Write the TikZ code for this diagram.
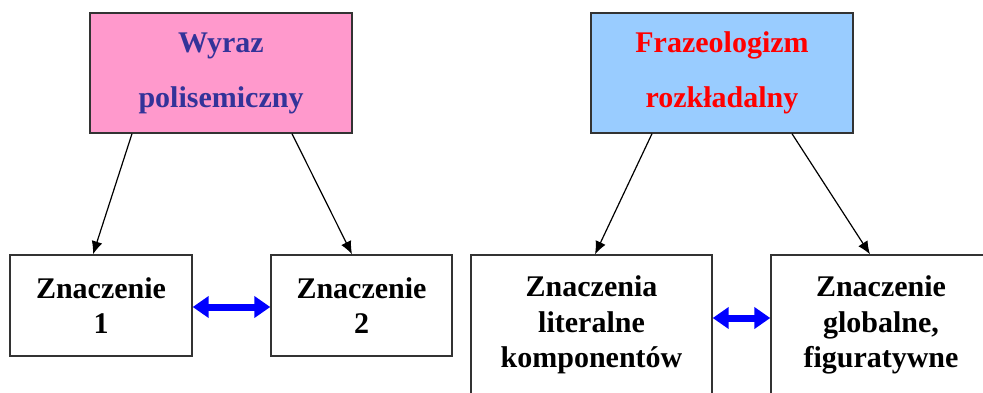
\documentclass[tikz,border=0pt]{standalone}
\usepackage{fontspec}
\setmainfont{Liberation Serif}
\usetikzlibrary{arrows.meta}
\usetikzlibrary{positioning}

\definecolor{pinkfill}{RGB}{255,153,204}
\definecolor{bluefill}{RGB}{153,204,255}
\definecolor{navytext}{RGB}{51,51,153}

\begin{document}
\begin{tikzpicture}[x=1pt, y=-1pt,
   box/.style={draw=black!80, line width=1.4pt, fill=white, inner sep=0pt,
               align=center, font=\bfseries\fontsize{30}{35.5}\selectfont},
   headbox/.style={box, font=\bfseries\fontsize{30}{55}\selectfont,
               minimum width=262pt, minimum height=120pt},
   link/.style={-{Latex[length=13pt,width=11pt]}, line width=1.2pt},
   both/.style={{Triangle[length=16pt,width=21pt]}-{Triangle[length=16pt,width=21pt]},
               blue, line width=7pt}]

 \useasboundingbox (0,0) rectangle (983,392);

 % top level
 \node[headbox, fill=pinkfill, text=navytext] (wyraz) at (221,73) {Wyraz\\polisemiczny};
 \node[headbox, fill=bluefill, text=red] (fraz) at (722,73) {Frazeologizm\\rozk\l{}adalny};

 % level 2
 \node[box, minimum width=182pt, minimum height=101pt] (zn1) at (101,305.5) {Znaczenie\\1};
 \node[box, minimum width=181pt, minimum height=101pt] (zn2) at (361.5,305.5) {Znaczenie\\2};

 \node[box, minimum width=241pt, minimum height=140pt] (lit) at (591.5,325) {Znaczenia\\literalne\\komponent\'ow};
 \node[box, minimum width=220pt, minimum height=140pt] (glob) at (881,325) {Znaczenie\\globalne,\\figuratywne};

 % lines
 \draw[link] ([xshift=-89pt]wyraz.south) -- ([xshift=-8pt]zn1.north);
 \draw[link] ([xshift=71pt]wyraz.south) -- ([xshift=-9.5pt]zn2.north);
 \draw[link] ([xshift=-70pt]fraz.south) -- ([xshift=3.5pt]lit.north);
 \draw[link] ([xshift=70pt]fraz.south) -- ([xshift=-11pt]glob.north);

 \draw[both] ([yshift=-1.5pt]zn1.east) -- ([yshift=-1.5pt]zn2.west);
 \draw[both] ([yshift=7pt]lit.east) -- ([yshift=7pt]glob.west);

\end{tikzpicture}
\end{document}
